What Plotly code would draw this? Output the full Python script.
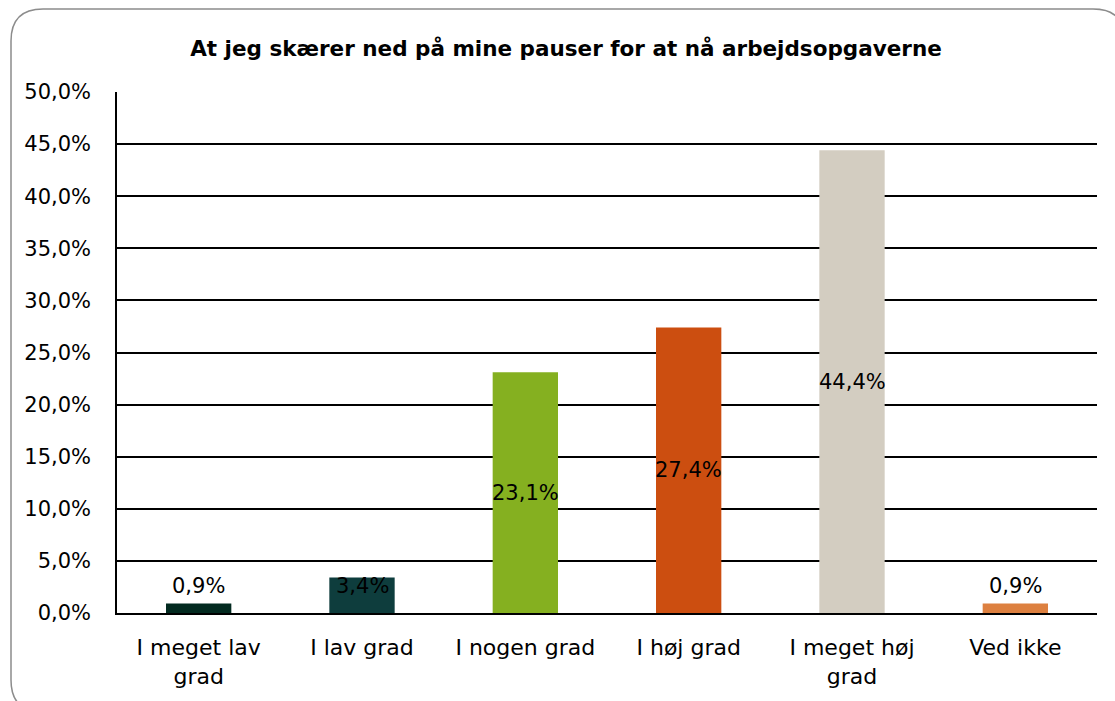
import plotly.graph_objects as go

categories = ["I meget lav<br>grad", "I lav grad", "I nogen grad", "I høj grad", "I meget høj<br>grad", "Ved ikke"]
values = [0.9, 3.4, 23.1, 27.4, 44.4, 0.9]
labels = ["0,9%", "3,4%", "23,1%", "27,4%", "44,4%", "0,9%"]
colors = ["#032a20", "#0e3d3d", "#85b020", "#cc4e10", "#d3cdc1", "#dd8040"]
tick_vals = [0, 5, 10, 15, 20, 25, 30, 35, 40, 45, 50]
tick_text = ["0,0%", "5,0%", "10,0%", "15,0%", "20,0%", "25,0%", "30,0%", "35,0%", "40,0%", "45,0%", "50,0%"]
title = "At jeg skærer ned på mine pauser for at nå arbejdsopgaverne"

W, H = 1115, 701
ml, mr, mt, mb = 117, 18, 92, 88
pw, ph = W - ml - mr, H - mt - mb
FONT = "DejaVu Sans"

fig = go.Figure()
fig.add_trace(go.Bar(
    x=categories, y=values, marker=dict(color=colors, line=dict(width=0)),
    width=0.4, hoverinfo="skip",
))

for c, v, t in zip(categories, values, labels):
    fig.add_annotation(x=c, y=max(v / 2, 2.6), text=t, showarrow=False,
                       xref="x", yref="y", yanchor="middle",
                       font=dict(family=FONT, size=21, color="#000000"))

def px2x(p):
    return (p - ml) / pw

def px2y(p):
    return 1 - (p - mt) / ph

# rounded border
x0, y0, x1, y1, r = 11, 9, 1125, 712, 32
path = (f"M {px2x(x0 + r)},{px2y(y0)} L {px2x(x1 - r)},{px2y(y0)} "
        f"Q {px2x(x1)},{px2y(y0)} {px2x(x1)},{px2y(y0 + r)} "
        f"L {px2x(x1)},{px2y(y1 - r)} Q {px2x(x1)},{px2y(y1)} {px2x(x1 - r)},{px2y(y1)} "
        f"L {px2x(x0 + r)},{px2y(y1)} Q {px2x(x0)},{px2y(y1)} {px2x(x0)},{px2y(y1 - r)} "
        f"L {px2x(x0)},{px2y(y0 + r)} Q {px2x(x0)},{px2y(y0)} {px2x(x0 + r)},{px2y(y0)} Z")
fig.add_shape(type="path", path=path, xref="paper", yref="paper",
              line=dict(color="#8c8c8c", width=1.5), layer="below")

fig.update_layout(
    width=W, height=H,
    margin=dict(l=ml, r=mr, t=mt, b=mb),
    paper_bgcolor="white", plot_bgcolor="white",
    showlegend=False,
    bargap=0.6,
    title=dict(text=f"<b>{title}</b>", x=566 / W, xanchor="center", y=1 - 48 / H, yanchor="middle",
               font=dict(family=FONT, size=21.5, color="#000000")),
    xaxis=dict(showgrid=False, showline=True, linecolor="#000000", linewidth=2,
               ticks="", ticklabelstandoff=14,
               tickfont=dict(family=FONT, size=22, color="#000000"),
               fixedrange=True),
    yaxis=dict(range=[0, 50], tickvals=tick_vals, ticktext=tick_text,
               showgrid=True, gridcolor="#000000", gridwidth=1.6,
               showline=True, linecolor="#000000", linewidth=1.6,
               zeroline=False, ticks="", ticklen=0, ticklabelstandoff=20,
               tickfont=dict(family=FONT, size=21, color="#000000"),
               fixedrange=True),
)

fig.write_html("out.html", config={"displayModeBar": False},
               post_script="document.body.style.margin='0';")
